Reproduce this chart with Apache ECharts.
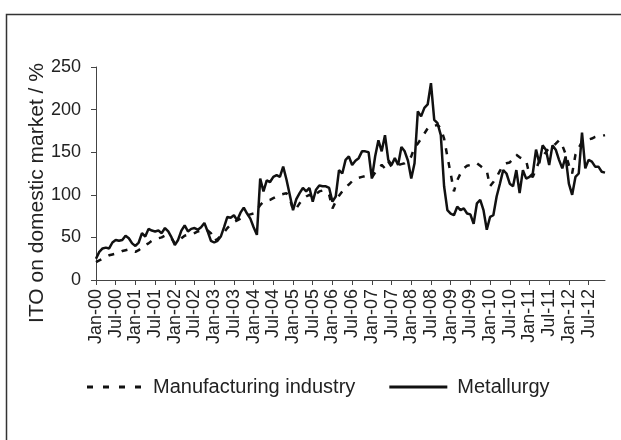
<!DOCTYPE html>
<html>
<head>
<meta charset="utf-8">
<title>ITO on domestic market</title>
<script src="https://cdn.jsdelivr.net/npm/echarts@6/dist/echarts.min.js"></script>
<style>
  html, body { margin: 0; padding: 0; background: #fff; }
  #chart { width: 621px; height: 440px; }
</style>
</head>
<body>
<div id="chart"></div>
<script>
  // categories: one per month, Jan-00 .. Dec-12
  var monthNames = ['Jan','Feb','Mar','Apr','May','Jun','Jul','Aug','Sep','Oct','Nov','Dec'];
  var years = ['00','01','02','03','04','05','06','07','08','09','10','11','12'];
  var months = [];
  for (var y = 0; y < years.length; y++) {
    for (var m = 0; m < 12; m++) {
      months.push(monthNames[m] + '-' + years[y]);
    }
  }

  // ITO on domestic market, %
  var manufacturing = [
    21, 23, 25, 27, 29, 30, 31, 32, 34, 35, 36, 34,       // 2000
    33, 35, 38, 41, 43, 46, 48, 49, 50, 52, 51, 49,       // 2001
    43, 45, 49, 52, 53, 53, 55, 57, 58, 59, 58, 55,       // 2002
    46, 48, 52, 56, 61, 65, 68, 70, 72, 74, 76, 77,       // 2003
    78, 82, 88, 92, 93, 94, 96, 98, 100, 101, 102, 96,    // 2004
    82, 84, 90, 95, 98, 100, 97, 101, 104, 105, 104, 100, // 2005
    84, 92, 99, 104, 109, 112, 116, 118, 120, 121, 122, 122, // 2006
    120, 126, 131, 135, 131, 139, 133, 134, 135, 136, 137, 140, // 2007
    145, 156, 160, 166, 172, 178, 180, 181, 182, 178, 166, 145, // 2008
    125, 104, 117, 125, 131, 134, 135, 137, 137, 134, 131, 128, // 2009
    110, 115, 121, 128, 135, 137, 138, 142, 147, 144, 142, 140, // 2010
    123, 121, 130, 140, 145, 150, 155, 157, 160, 164, 158, 148, // 2011
    135, 125, 147, 155, 162, 163, 165, 166, 168, 169, 169, 170  // 2012
  ];
  var metallurgy = [
    25, 33, 37, 38, 37, 44, 47, 46, 47, 52, 49, 43,       // 2000
    40, 44, 55, 51, 60, 58, 57, 58, 55, 61, 57, 50,       // 2001
    41, 47, 58, 64, 57, 60, 61, 59, 62, 67, 57, 46,       // 2002
    44, 46, 51, 62, 74, 73, 76, 70, 79, 85, 78, 72,       // 2003
    62, 53, 119, 104, 117, 115, 121, 123, 121, 133, 118, 100, // 2004
    82, 95, 102, 108, 104, 108, 92, 106, 111, 110, 110, 108,  // 2005
    92, 98, 129, 125, 141, 145, 135, 140, 143, 151, 151, 150, // 2006
    119, 145, 164, 151, 170, 141, 135, 143, 135, 156, 151, 140, // 2007
    119, 137, 198, 192, 202, 206, 231, 188, 184, 170, 110, 82,  // 2008
    78, 76, 86, 82, 84, 78, 77, 66, 90, 94, 82, 59,           // 2009
    74, 76, 98, 113, 129, 125, 113, 110, 129, 102, 129, 119,  // 2010
    121, 125, 153, 137, 158, 153, 135, 158, 153, 141, 131, 145, // 2011
    113, 100, 121, 125, 173, 131, 141, 139, 133, 133, 127, 126  // 2012
  ];

  var chart = echarts.init(document.getElementById('chart'));
  var fontFam = 'Liberation Sans, Arial, sans-serif';

  // legend icons: short dashes / one solid bar
  var dashIcon = 'path://M0,0H6V3H0Z M16,0H22V3H16Z M32,0H38V3H32Z M48,0H54V3H48Z';
  var solidIcon = 'path://M0,0H60V3H0Z';

  chart.setOption({
    animation: false,
    backgroundColor: '#fff',
    textStyle: { fontFamily: fontFam, color: '#222' },
    grid: { left: 96, right: 16, top: 67, bottom: 160 },
    graphic: [
      {
        // outer chart frame
        type: 'rect',
        shape: { x: 6.5, y: 14.5, width: 700, height: 500 },
        style: { fill: 'none', stroke: '#333', lineWidth: 1.5 },
        silent: true
      },
      {
        type: 'text',
        x: 37, y: 193,
        rotation: Math.PI / 2,
        style: {
          text: 'ITO on domestic market / %',
          font: '21px ' + fontFam,
          fill: '#222',
          textAlign: 'center',
          textVerticalAlign: 'middle'
        }
      }
    ],
    legend: {
      left: 82,
      top: 372,
      itemWidth: 58,
      itemHeight: 3,
      itemGap: 34,
      textStyle: { fontSize: 20, color: '#222', padding: [0, 0, 0, 5] },
      data: [
        { name: 'Manufacturing industry', icon: dashIcon, itemStyle: { color: '#111' } },
        { name: 'Metallurgy', icon: solidIcon, itemStyle: { color: '#111' } }
      ]
    },
    xAxis: {
      type: 'category',
      data: months,
      boundaryGap: false,
      axisLine: { lineStyle: { color: '#444', width: 1 } },
      axisTick: { interval: 5, length: 5, lineStyle: { color: '#444' } },
      axisLabel: { interval: 5, rotate: 90, fontSize: 18, color: '#222', margin: 9 },
      splitLine: { show: false }
    },
    yAxis: {
      type: 'value',
      min: 0,
      max: 250,
      interval: 50,
      axisLine: { show: true, lineStyle: { color: '#444', width: 1 } },
      axisTick: { show: true, length: 5, lineStyle: { color: '#444' } },
      axisLabel: { fontSize: 18, color: '#222', margin: 15 },
      splitLine: { show: false }
    },
    series: [
      {
        name: 'Manufacturing industry',
        type: 'line',
        data: manufacturing,
        symbol: 'none',
        lineStyle: { color: '#111', width: 2.5, type: [6, 8] },
        itemStyle: { color: '#111' }
      },
      {
        name: 'Metallurgy',
        type: 'line',
        data: metallurgy,
        symbol: 'none',
        lineStyle: { color: '#111', width: 2.5 },
        itemStyle: { color: '#111' }
      }
    ]
  });
</script>
</body>
</html>
